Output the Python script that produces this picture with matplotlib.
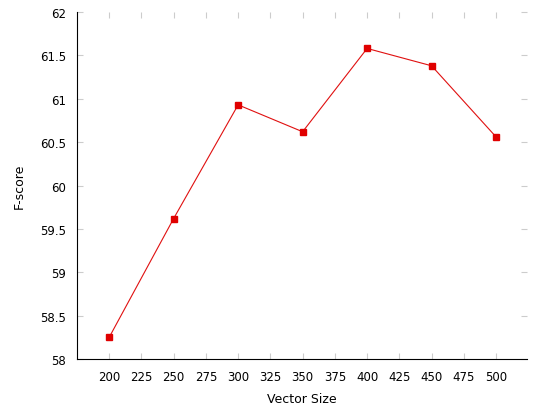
import matplotlib
matplotlib.use("Agg")
import matplotlib.pyplot as plt

sizes = [200, 250, 300, 350, 400, 450, 500]
fscore = [58.25, 59.62, 60.93, 60.62, 61.58, 61.38, 60.56]
xticks = list(range(200, 501, 25))
yticks = [58, 58.5, 59, 59.5, 60, 60.5, 61, 61.5, 62]

fig = plt.figure(figsize=(5.34, 4.06), dpi=100)
ax = fig.add_axes([0.144, 0.113, 0.843, 0.855])
ax.plot(sizes, fscore, color="#e01010", lw=0.8, marker="s", ms=4.5,
        markerfacecolor="#e00000", markeredgecolor="#e00000")
ax.set_xlim(175, 524)
ax.set_ylim(58, 62)
ax.set_xticks(xticks)
ax.set_yticks(yticks)
ax.set_yticklabels([f"{v:g}" for v in yticks])
ax.spines["top"].set_visible(False)
ax.spines["right"].set_visible(False)
ax.tick_params(direction="in", top=True, right=True, labelsize=8.5, length=4, color="#cccccc", pad=8)
ax.set_xlabel("Vector Size", fontsize=9, labelpad=6)
ax.set_ylabel("F-score", fontsize=9, labelpad=10)
fig.savefig("out.png", dpi=100)
